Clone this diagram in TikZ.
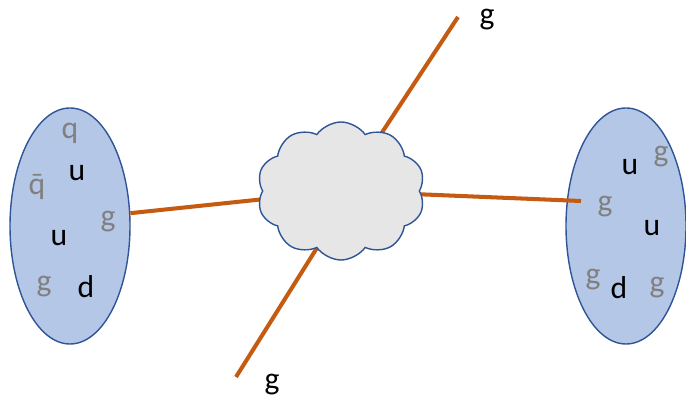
\documentclass[tikz,border=0pt]{standalone}
\usepackage{fontspec}
\setmainfont{Carlito}
\usetikzlibrary{shapes.geometric,shapes.symbols,backgrounds}
\definecolor{hadfill}{HTML}{B4C7E7}
\definecolor{hadline}{HTML}{2F5597}
\definecolor{glu}{HTML}{C55A11}
\definecolor{seagray}{HTML}{808080}
\definecolor{blob}{HTML}{E7E6E6}
\begin{document}
\begin{tikzpicture}[
  hadron/.style={ellipse, draw=hadline, fill=hadfill, line width=0.8pt, inner sep=0pt, minimum width=2.4cm, minimum height=4.72cm},
  valence/.style={inner sep=0pt, font=\fontsize{18}{20}\selectfont},
  sea/.style={valence, text=seagray},
  gluon/.style={glu, line width=2.3pt},
  blobstyle/.style={cloud, cloud puffs=10, cloud puff arc=110, cloud ignores aspect, draw=hadline, fill=blob, line width=0.8pt, minimum width=3.36cm, minimum height=2.76cm, inner sep=0pt}
]
 \useasboundingbox (0,0) rectangle (13.72,8.06);
 % the two protons
 \begin{pgfonlayer}{background}
  \node[hadron] (pL) at (1.40,3.54) {};
  \node[hadron] (pR) at (12.52,3.54) {};
 \end{pgfonlayer}
 \node[sea] (qL) at (1.40,5.40) {q};
 \node[valence] (uL1) at (1.54,4.60) {u};
 \node[sea] (qbL) at (0.74,4.32) {\accent"00AF q};
 \node[sea] (gL1) at (2.16,3.62) {g};
 \node[valence] (uL2) at (1.18,3.30) {u};
 \node[sea] (gL2) at (0.88,2.32) {g};
 \node[valence] (dL) at (1.72,2.32) {d};
 \node[valence] (uR1) at (12.60,4.72) {u};
 \node[sea] (gR1) at (13.22,4.92) {g};
 \node[sea] (gR2) at (12.10,3.92) {g};
 \node[valence] (uR2) at (13.04,3.50) {u};
 \node[sea] (gR3) at (11.86,2.46) {g};
 \node[valence] (dR) at (12.38,2.30) {d};
 \node[sea] (gR4) at (13.14,2.30) {g};
 % hard scattering
 \node[blobstyle] (hard) at (6.82,4.24) {};
 \coordinate (inR) at (11.62,4.04);
 \coordinate (outT) at (9.16,7.72);
 \coordinate (outB) at (4.72,0.52);
 \node[valence] (gT) at (9.74,7.66) {g};
 \node[valence] (gB) at (5.44,0.36) {g};
 \begin{pgfonlayer}{background}
  \draw[gluon] (pL.12) -- (hard.center);
  \draw[gluon] (inR) -- (hard.center);
  \draw[gluon, shorten >=-8pt] (outT) -- (hard.55);
  \draw[gluon, shorten >=-8pt] (outB) -- (hard.247);
 \end{pgfonlayer}
\end{tikzpicture}
\end{document}
